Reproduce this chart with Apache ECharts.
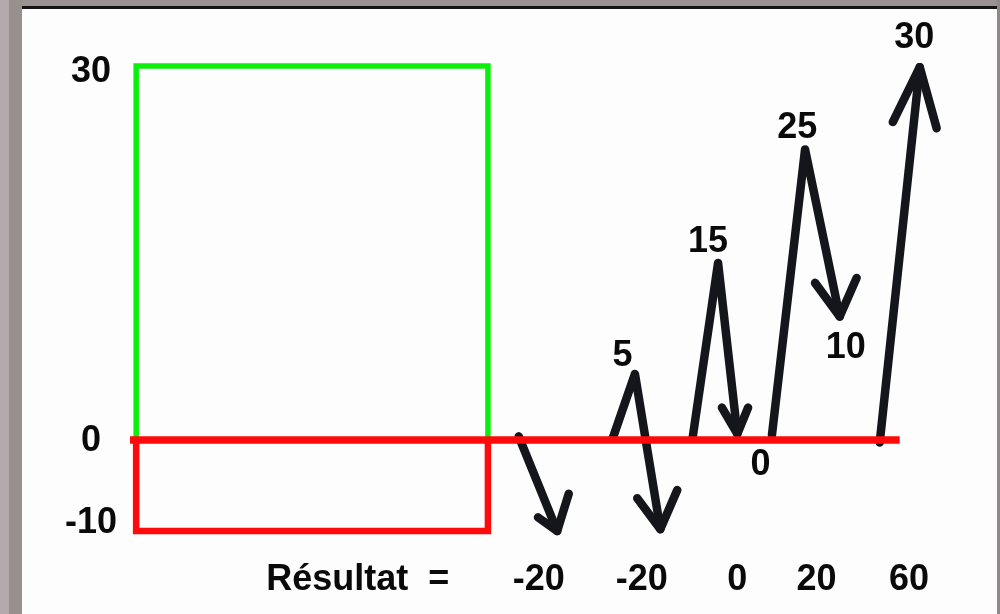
<!DOCTYPE html>
<html>
<head>
<meta charset="utf-8">
<script src="https://cdn.jsdelivr.net/npm/echarts@6/dist/echarts.min.js"></script>
<style>
html,body{margin:0;padding:0;background:#fdfdfd;}
#chart{width:1000px;height:614px;}
</style>
</head>
<body>
<div id="chart"></div>
<script>
// ---- Data (x: horizontal position units, y: value) ----
const yTickLabels = [30, 0, -10];

// green target box (upper part) and red stop box (lower part)
const greenBox = [[0.8, 0], [0.8, 30], [46.5, 30], [46.5, 0]];
const redBox = [[0.8, 0], [0.8, -10], [46.5, -10], [46.5, 0]];
const zeroLine = [[0, 0], [100, 0]];

// price strokes above zero
const upperStrokes = [
  [[62.75, 0.2], [65.6, 5.3], [67.0, 0]],
  [[73.1, 0.2], [76.4, 14.2], [78.9, 0.5]],
  [[76.9, 2.6], [78.9, 0.5], [80.3, 2.6]],
  [[83.4, 0.4], [87.7, 23.3], [92.2, 9.9]],
  [[89.0, 12.6], [92.2, 9.9], [94.4, 13.0]],
  [[97.4, -0.2], [102.6, 29.9]],
  [[99.1, 25.5], [102.6, 29.9], [104.8, 25.0]]
];
// price strokes below zero
const lowerStrokes = [
  [[50.5, 0.4], [55.5, -10.0]],
  [[53.0, -8.5], [55.5, -10.0], [57.0, -5.9]],
  [[67.0, 0], [68.9, -9.8]],
  [[65.9, -6.4], [68.9, -9.8], [71.1, -5.5]]
];

// level labels next to the strokes
const levelLabels = ['5', '15', '25', '10', '30'];
const levelPos = [[64.0, 6.7], [75.1, 15.9], [86.7, 25.0], [93.0, 7.4], [101.9, 32.2]];
const lowLevelLabels = ['0'];
const lowLevelPos = [[81.9, -2.75]];

// result row
const resultLabels = ['Résultat  =', '-20', '-20', '0', '20', '60'];
const resultX = [29.6, 53.1, 66.5, 78.9, 89.2, 101.2];
const resultY = -15.4;

// ---- Chart ----
const FONT = "'Liberation Sans', Arial, sans-serif";
const BLACK = '#15151c';
const TEXT = '#0a0a0a';
const chart = echarts.init(document.getElementById('chart'));

function strokeSeries(pts, grid) {
  return {
    type: 'line', xAxisIndex: grid, yAxisIndex: grid, data: pts,
    symbol: 'none', clip: false, silent: true, z: 3,
    lineStyle: { color: BLACK, width: 8.5, cap: 'round', join: 'round' }
  };
}
function textSeries(labels, pos, grid) {
  return {
    type: 'scatter', xAxisIndex: grid, yAxisIndex: grid, clip: false, silent: true,
    symbolSize: 0, z: 5, itemStyle: { opacity: 1 },
    data: pos.map((p, i) => ({ value: p, name: labels[i] })),
    label: {
      show: true, position: 'inside', formatter: p => p.name,
      color: TEXT, opacity: 1, fontSize: 36, fontWeight: 'bold', fontFamily: FONT
    }
  };
}

const series = [];
upperStrokes.forEach(s => series.push(strokeSeries(s, 0)));
lowerStrokes.forEach(s => series.push(strokeSeries(s, 1)));
series.push({
  type: 'line', xAxisIndex: 0, yAxisIndex: 0, data: greenBox, symbol: 'none',
  clip: false, silent: true, z: 2, lineStyle: { color: '#0cee0c', width: 5.5, join: 'miter' }
});
series.push({
  type: 'line', xAxisIndex: 1, yAxisIndex: 1, data: redBox, symbol: 'none',
  clip: false, silent: true, z: 4, lineStyle: { color: '#ff0a0a', width: 6.5, join: 'miter' }
});
series.push({
  type: 'line', xAxisIndex: 1, yAxisIndex: 1, data: zeroLine, symbol: 'none',
  clip: false, silent: true, z: 4, lineStyle: { color: '#ff0a0a', width: 7.5 }
});
series.push(textSeries(levelLabels, levelPos, 0));
series.push(textSeries(lowLevelLabels, lowLevelPos, 1));
series.push(textSeries(resultLabels, resultX.map(x => [x, resultY]), 1));

const hiddenX = { type: 'value', min: 0, max: 109, show: false };
const labelStyle = {
  color: TEXT, fontSize: 36, fontWeight: 'bold', fontFamily: FONT, align: 'center', margin: 39,
  rich: {
    hi: { color: TEXT, fontSize: 36, fontWeight: 'bold', fontFamily: FONT, padding: [12, 0, 0, 0] },
    lo: { color: TEXT, fontSize: 36, fontWeight: 'bold', fontFamily: FONT, padding: [0, 0, 16, 0] },
    mid: { color: TEXT, fontSize: 36, fontWeight: 'bold', fontFamily: FONT, padding: [3, 0, 0, 0] }
  }
};

function fmt(v, positive) {
  if (yTickLabels.indexOf(v) < 0) return '';
  if (positive && v < 0) return '';
  if (!positive && v >= 0) return '';
  const key = v > 0 ? 'hi' : (v < 0 ? 'lo' : 'mid');
  return '{' + key + '|' + v + '}';
}

chart.setOption({
  animation: false,
  backgroundColor: '#fdfdfd',
  grid: [
    { left: 130, width: 839, top: 3.55, height: 436.45 },
    { left: 130, width: 839, top: 440, height: 163.8 }
  ],
  xAxis: [Object.assign({ gridIndex: 0 }, hiddenX), Object.assign({ gridIndex: 1 }, hiddenX)],
  yAxis: [
    {
      gridIndex: 0, type: 'value', min: 0, max: 35, interval: 5,
      axisLine: { show: false }, axisTick: { show: false }, splitLine: { show: false },
      axisLabel: Object.assign({}, labelStyle, { showMaxLabel: false, formatter: v => fmt(v, true) })
    },
    {
      gridIndex: 1, type: 'value', min: -18, max: 0, interval: 1,
      axisLine: { show: false }, axisTick: { show: false }, splitLine: { show: false },
      axisLabel: Object.assign({}, labelStyle, { showMaxLabel: false, formatter: v => fmt(v, false) })
    }
  ],
  graphic: [
    { type: 'rect', shape: { x: 0, y: 0, width: 1000, height: 7 }, style: { fill: '#9b9292' }, z: 10 },
    { type: 'rect', shape: { x: 0, y: 6, width: 1000, height: 3 }, style: { fill: '#151515' }, z: 10 },
    { type: 'rect', shape: { x: 0, y: 0, width: 9, height: 614 }, style: { fill: '#b3abab' }, z: 11 },
    { type: 'rect', shape: { x: 9, y: 0, width: 13, height: 614 }, style: { fill: '#988f8f' }, z: 11 },
    { type: 'rect', shape: { x: 997, y: 0, width: 3, height: 614 }, style: { fill: '#8f8888' }, z: 11 }
  ],
  series: series
});
</script>
</body>
</html>
